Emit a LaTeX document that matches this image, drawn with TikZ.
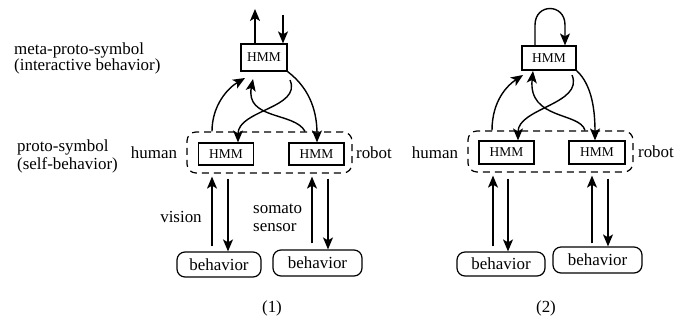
\documentclass[tikz,border=0pt]{standalone}
\usepackage{fontspec}
\setmainfont{Liberation Serif}
\usetikzlibrary{arrows.meta,calc}
\begin{document}
\begin{tikzpicture}[x=1bp,y=-1bp,
  lbl/.style={font=\fontsize{17}{17}\selectfont, inner sep=0pt},
  hmm/.style={draw, line width=1.2bp, font=\fontsize{13.5}{13.5}\selectfont, inner sep=0pt},
  beh/.style={draw, line width=1.2bp, rounded corners=8bp, font=\fontsize{17}{17}\selectfont, inner sep=0pt},
  grp/.style={draw, dashed, dash pattern=on 7bp off 5bp, line width=1.2bp, rounded corners=9bp, inner sep=0pt},
  arr/.style={line width=1.4bp, -{Stealth[length=12bp,width=10bp,inset=3bp]}}
]
\useasboundingbox (0,0) rectangle (680,322);
% ---------- texts on the left
\node[lbl, anchor=west, align=left] (meta) at (14,58) {meta-proto-symbol\\[-1bp](interactive behavior)};
\node[lbl, anchor=west, align=left] (proto) at (17,156) {proto-symbol\\[1bp](self-behavior)};
% ---------- panel 1
\node[grp, minimum width=165bp, minimum height=41bp] (g1) at (269.5,152.5) {};
\node[hmm, minimum width=46bp, minimum height=27bp] (t1) at (264,57.5) {HMM};
\node[hmm, minimum width=55bp, minimum height=22bp] (h1) at (226,154) {HMM};
\node[hmm, minimum width=55bp, minimum height=22bp] (r1) at (316.5,154) {HMM};
\node[beh, minimum width=84bp, minimum height=25bp] (b1l) at (219,264.5) {behavior};
\node[beh, minimum width=89bp, minimum height=26bp] (b1r) at (317.5,263) {behavior};
\node[lbl] (hu1) at (154,153) {human};
\node[lbl] (ro1) at (374,153) {robot};
\node[lbl] (vis) at (181,217) {vision};
\node[lbl, anchor=west, align=left] (som) at (253,218) {somato\\[1bp]sensor};
\node[lbl] (p1) at (272,308) {(1)};
\coordinate (o1) at (255,9);
\coordinate (i1) at (283,15);
\draw[arr] (t1.north -| o1) -- (o1);
\draw[arr] (i1) -- (t1.north -| i1);
% vertical arrows
\draw[arr, shorten <=5bp] (b1l.north -| 212,0) -- ([yshift=-3bp]g1.south -| 212,0);
\draw[arr, shorten <=5bp] (g1.south -| 228,0) -- (b1l.north -| 228,0);
\draw[arr, shorten <=6bp] (b1r.north -| 312,0) -- ([yshift=-3bp]g1.south -| 312,0);
\draw[arr, shorten <=5bp] (g1.south -| 328,0) -- (b1r.north -| 328,0);
% curves
\draw[arr] (g1.north -| 212,0) .. controls (212,105) and (228,88) .. (245,78);
\draw[arr] (290,80) .. controls (302,108) and (238,110) .. (h1.north -| 238,0);
\draw[arr] (g1.north -| 305,0) .. controls (295,112) and (245,120) .. (253,79);
\draw[arr] (t1.south east) .. controls (312,90) and (317,115) .. (r1.north -| 317,0);
% ---------- panel 2
\node[grp, minimum width=165bp, minimum height=41bp] (g2) at (550.5,151.5) {};
\node[hmm, minimum width=54bp, minimum height=24bp] (t2) at (549,58) {HMM};
\node[hmm, minimum width=55bp, minimum height=23bp] (h2) at (506.5,152.5) {HMM};
\node[hmm, minimum width=56bp, minimum height=23bp] (r2) at (597,152.5) {HMM};
\node[beh, minimum width=88bp, minimum height=24bp] (b2l) at (501,264) {behavior};
\node[beh, minimum width=89bp, minimum height=26bp] (b2r) at (597.5,260) {behavior};
\node[lbl] (hu2) at (435,153) {human};
\node[lbl] (ro2) at (656,152) {robot};
\node[lbl] (p2) at (546,308) {(2)};
% self loop
\draw[arr] (t2.north -| 535,0) -- (535,25) .. controls (535,3) and (565,3) .. (565,25) -- (t2.north -| 565,0);
% vertical arrows
\draw[arr, shorten <=5bp] (b2l.north -| 493,0) -- ([yshift=-3bp]g2.south -| 493,0);
\draw[arr, shorten <=6bp] (g2.south -| 508,0) -- (b2l.north -| 508,0);
\draw[arr, shorten <=3bp] (b2r.north -| 592,0) -- ([yshift=-3bp]g2.south -| 592,0);
\draw[arr, shorten <=6bp] (g2.south -| 608,0) -- (b2r.north -| 608,0);
% curves
\draw[arr] (g2.north -| 492,0) .. controls (492,100) and (508,85) .. (523,75);
\draw[arr] (572,75) .. controls (584,104) and (518,108) .. (h2.north -| 518,0);
\draw[arr] (g2.north -| 585,0) .. controls (580,112) and (528,120) .. (533,71);
\draw[arr] (t2.south east) .. controls (592,85) and (595,110) .. (r2.north -| 595,0);
\end{tikzpicture}
\end{document}
